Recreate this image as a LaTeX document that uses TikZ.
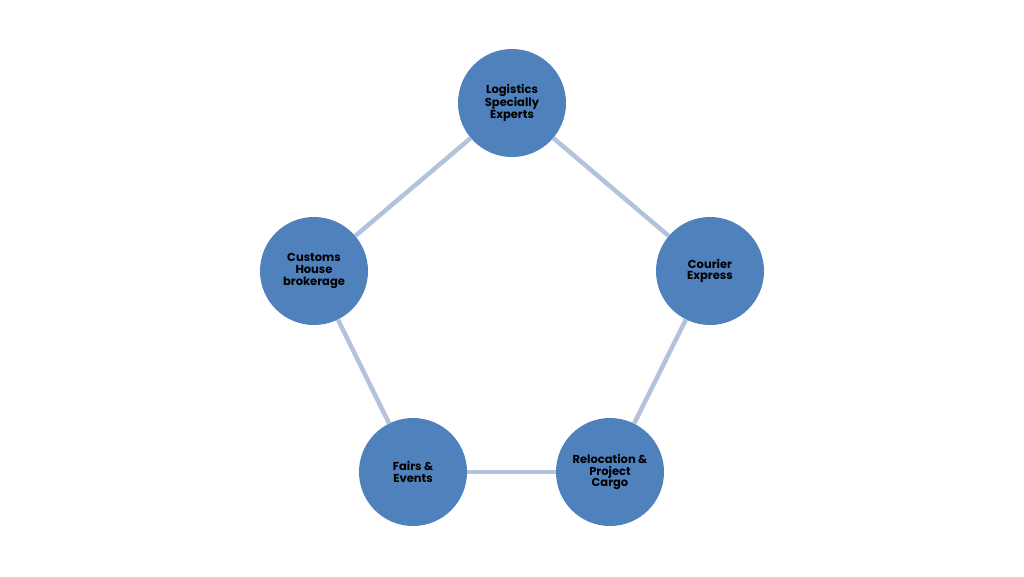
\documentclass[tikz,border=0pt]{standalone}
\usepackage{fontspec}
\setmainfont{Poppins}
\definecolor{circfill}{HTML}{4F81BD}
\definecolor{linkcol}{HTML}{B4C3DC}
\begin{document}
\begin{tikzpicture}[x=1pt,y=-1pt,
  hub/.style={circle,fill=circfill,draw=none,minimum size=108pt,inner sep=0pt,
    align=center,font=\bfseries\fontsize{11.5}{11.8}\selectfont,text=black},
  link/.style={draw=linkcol,line width=4.5pt}]
\useasboundingbox (0,0) rectangle (1024,576);
\fill[white] (0,0) rectangle (1024,576);
\node[hub] (a) at (512,103) {Logistics\\Specially\\Experts};
\node[hub] (b) at (710,271) {Courier\\Express};
\node[hub] (c) at (610,472) {Relocation \&\\Project\\Cargo};
\node[hub] (d) at (413,472) {Fairs \&\\Events};
\node[hub] (e) at (314,271) {Customs\\House\\brokerage};
\draw[link] (a) -- (b);
\draw[link] (b) -- (c);
\draw[link] (c) -- (d);
\draw[link] (d) -- (e);
\draw[link] (e) -- (a);
\end{tikzpicture}
\end{document}
